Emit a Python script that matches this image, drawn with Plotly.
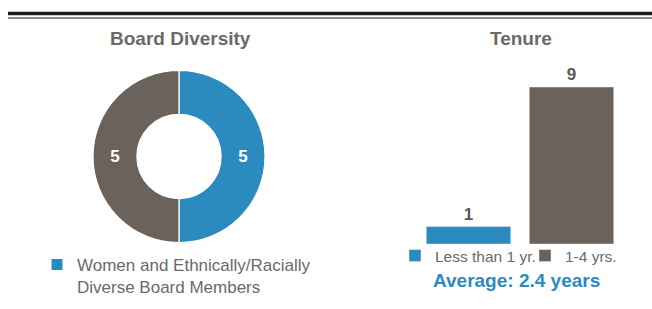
import plotly.graph_objects as go

# ---- data ----
diversity_labels = ["Women and Ethnically/Racially Diverse Board Members", "Other"]
diversity_values = [5, 5]

tenure_categories = ["Less than 1 yr.", "1-4 yrs."]
tenure_values = [1, 9]
average_tenure = 2.4

BLUE = "#2b8bbf"
GRAY = "#6b625b"
TEXT = "#6a6a6a"
FONT = "Liberation Sans, Arial, sans-serif"

W, H = 652, 309
def px(x):
    return x / W
def py(y):
    return 1 - y / H

fig = go.Figure()

# donut
fig.add_trace(go.Pie(
    labels=diversity_labels,
    values=diversity_values,
    hole=0.49,
    sort=False,
    direction="clockwise",
    rotation=0,
    marker=dict(colors=[BLUE, GRAY], line=dict(color="white", width=1.2)),
    textinfo="value",
    textposition="inside",
    insidetextorientation="horizontal",
    textfont=dict(color="white", size=17, family=FONT, weight="bold"),
    domain=dict(x=[px(93), px(265)], y=[py(243), py(70)]),
    showlegend=False,
    hoverinfo="label+value",
))

# tenure bars
bar_colors = [BLUE, GRAY]
for cat, val, col in zip(tenure_categories, tenure_values, bar_colors):
    fig.add_trace(go.Bar(
        x=[cat], y=[val], name=cat,
        marker=dict(color=col),
        text=[str(val)], textposition="outside",
        textfont=dict(color="#595959", size=17, family=FONT, weight="bold"),
        cliponaxis=False,
        legend="legend2",
    ))

# legend entry for the donut
fig.add_trace(go.Scatter(
    x=[None], y=[None], mode="markers",
    xaxis="x2", yaxis="y2",
    marker=dict(symbol="square", size=11, color=BLUE),
    name="Women and Ethnically/Racially<br>Diverse Board Members",
    legend="legend",
    showlegend=True,
))

fig.update_layout(
    width=W, height=H,
    margin=dict(l=0, r=0, t=0, b=0, autoexpand=False),
    paper_bgcolor="white", plot_bgcolor="white",
    font=dict(family=FONT, color=TEXT),
    barmode="group",
    bargap=0.18,
    xaxis=dict(domain=[px(417), px(623)], range=[-0.5, 1.5], type="category",
               categoryorder="array", categoryarray=tenure_categories,
               visible=False, fixedrange=True),
    yaxis=dict(domain=[py(244), py(87)], range=[0, 9], visible=False, fixedrange=True),
    xaxis2=dict(domain=[0, 0.01], visible=False, anchor="y2"),
    yaxis2=dict(domain=[0, 0.01], visible=False, anchor="x2"),
    legend=dict(
        x=px(37), y=py(247), xanchor="left", yanchor="top",
        font=dict(size=17, color=TEXT, family=FONT),
        valign="top", bgcolor="rgba(0,0,0,0)", itemwidth=30,
        tracegroupgap=0,
    ),
    legend2=dict(
        orientation="h",
        x=px(395), y=py(239), xanchor="left", yanchor="top",
        font=dict(size=15.5, color=TEXT, family=FONT),
        bgcolor="rgba(0,0,0,0)", itemwidth=30,
        entrywidth=85, entrywidthmode="pixels",
    ),
    shapes=[
        dict(type="line", xref="paper", yref="paper", x0=px(8), x1=1, y0=py(13.5), y1=py(13.5),
             line=dict(color="#1a1a1a", width=3.5)),
        dict(type="line", xref="paper", yref="paper", x0=px(8), x1=1, y0=py(18), y1=py(18),
             line=dict(color="#8a8a8a", width=1.8)),
    ],
    annotations=[
        dict(text="<b>Board Diversity</b>", x=px(180), y=py(39), xref="paper", yref="paper",
             showarrow=False, font=dict(size=19, color=TEXT, family=FONT), xanchor="center", yanchor="middle"),
        dict(text="<b>Tenure</b>", x=px(521), y=py(39), xref="paper", yref="paper",
             showarrow=False, font=dict(size=19, color=TEXT, family=FONT), xanchor="center", yanchor="middle"),
        dict(text=f"<b>Average: {average_tenure} years</b>", x=px(516), y=py(280), xref="paper", yref="paper",
             showarrow=False, font=dict(size=19, color=BLUE, family=FONT), xanchor="center", yanchor="middle"),
    ],
)

fig.write_html("out.html", config={"displayModeBar": False},
               post_script="document.body.style.margin='0';document.body.style.overflow='hidden';")
